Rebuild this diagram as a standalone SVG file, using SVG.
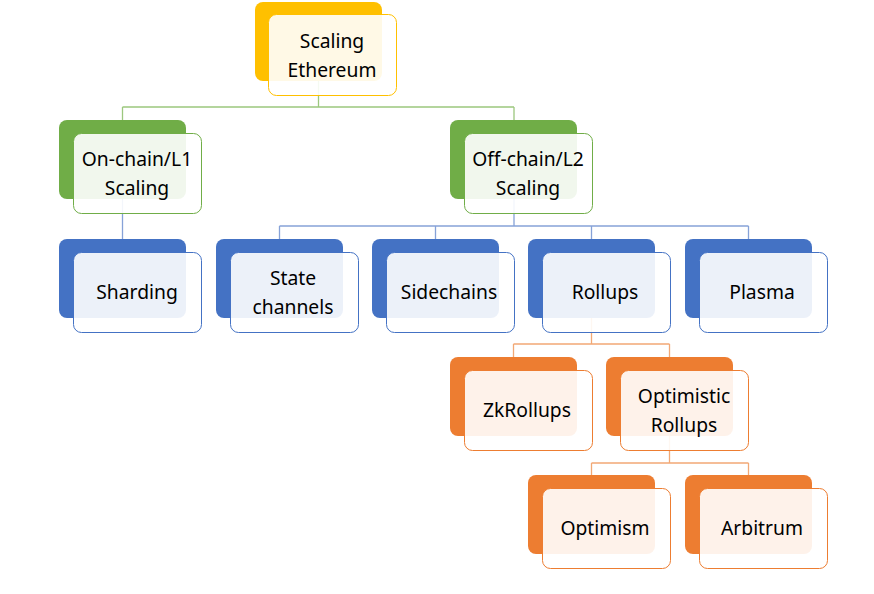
<svg xmlns="http://www.w3.org/2000/svg" width="874" height="594" viewBox="0 0 874 594">
<style>
.b{stroke:none}
.f{fill:#ffffff;fill-opacity:0.9;stroke-width:1}
.y .b{fill:#FFC000}.y .f{stroke:#FFC000}
.g .b{fill:#70AD47}.g .f{stroke:#70AD47}
.u .b{fill:#4472C4}.u .f{stroke:#4472C4}
.o .b{fill:#ED7D31}.o .f{stroke:#ED7D31}
text{font-family:"Noto Sans","Open Sans","Liberation Sans",sans-serif;font-size:19.3px;fill:#000;text-anchor:middle;dominant-baseline:central}
.c{fill:none;stroke-width:1.3}
.cg{stroke:#9CC77E}.cu{stroke:#86A2D8}.co{stroke:#F2A875}
</style>
<rect width="874" height="594" fill="#ffffff"/>
<g id="connectors">
<path class="c cg" d="M318.5,80V107M122.5,107H514M122.5,107V120M514,107V120"/>
<path class="c cu" d="M122.5,199V239"/>
<path class="c cu" d="M514,199V226M279.5,226H748.5M279.5,226V239M435.5,226V239M591.5,226V239M748.5,226V239"/>
<path class="c co" d="M591.5,318V344M513.5,344H669.5M513.5,344V357M669.5,344V357"/>
<path class="c co" d="M669.5,436V463M591.5,463H748.5M591.5,463V475M748.5,463V475"/>
</g>
<g id="n-scaling-ethereum" class="y">
<rect class="b" x="255" y="2" width="127" height="79" rx="8"/>
<rect class="f" x="268.5" y="14.5" width="128" height="81" rx="8"/>
<text x="332" y="40">Scaling</text><text x="332" y="69">Ethereum</text>
</g>
<g id="n-onchain" class="g">
<rect class="b" x="59" y="120" width="127" height="79" rx="8"/>
<rect class="f" x="73.5" y="133.5" width="128" height="80" rx="8"/>
<text x="137" y="158">On-chain/L1</text><text x="137" y="187">Scaling</text>
</g>
<g id="n-offchain" class="g">
<rect class="b" x="450" y="120" width="127" height="79" rx="8"/>
<rect class="f" x="464.5" y="133.5" width="128" height="80" rx="8"/>
<text x="528" y="158">Off-chain/L2</text><text x="528" y="187">Scaling</text>
</g>
<g id="n-sharding" class="u">
<rect class="b" x="59" y="239" width="127" height="79" rx="8"/>
<rect class="f" x="73.5" y="252.5" width="128" height="80" rx="8"/>
<text x="137" y="291">Sharding</text>
</g>
<g id="n-state-channels" class="u">
<rect class="b" x="216" y="239" width="127" height="79" rx="8"/>
<rect class="f" x="230.5" y="252.5" width="128" height="80" rx="8"/>
<text x="293" y="277">State</text><text x="293" y="306">channels</text>
</g>
<g id="n-sidechains" class="u">
<rect class="b" x="372" y="239" width="127" height="79" rx="8"/>
<rect class="f" x="386.5" y="252.5" width="128" height="80" rx="8"/>
<text x="449" y="291">Sidechains</text>
</g>
<g id="n-rollups" class="u">
<rect class="b" x="528" y="239" width="127" height="79" rx="8"/>
<rect class="f" x="542.5" y="252.5" width="128" height="80" rx="8"/>
<text x="605" y="291">Rollups</text>
</g>
<g id="n-plasma" class="u">
<rect class="b" x="685" y="239" width="127" height="79" rx="8"/>
<rect class="f" x="699.5" y="252.5" width="128" height="80" rx="8"/>
<text x="762" y="291">Plasma</text>
</g>
<g id="n-zkrollups" class="o">
<rect class="b" x="450" y="357" width="127" height="79" rx="8"/>
<rect class="f" x="464.5" y="370.5" width="128" height="80" rx="8"/>
<text x="527" y="409">ZkRollups</text>
</g>
<g id="n-optimistic-rollups" class="o">
<rect class="b" x="606" y="357" width="127" height="79" rx="8"/>
<rect class="f" x="620.5" y="370.5" width="128" height="80" rx="8"/>
<text x="684" y="395">Optimistic</text><text x="684" y="424">Rollups</text>
</g>
<g id="n-optimism" class="o">
<rect class="b" x="528" y="475" width="127" height="79" rx="8"/>
<rect class="f" x="542.5" y="488.5" width="128" height="80" rx="8"/>
<text x="605" y="527">Optimism</text>
</g>
<g id="n-arbitrum" class="o">
<rect class="b" x="685" y="475" width="127" height="79" rx="8"/>
<rect class="f" x="699.5" y="488.5" width="128" height="80" rx="8"/>
<text x="762" y="527">Arbitrum</text>
</g>
</svg>
